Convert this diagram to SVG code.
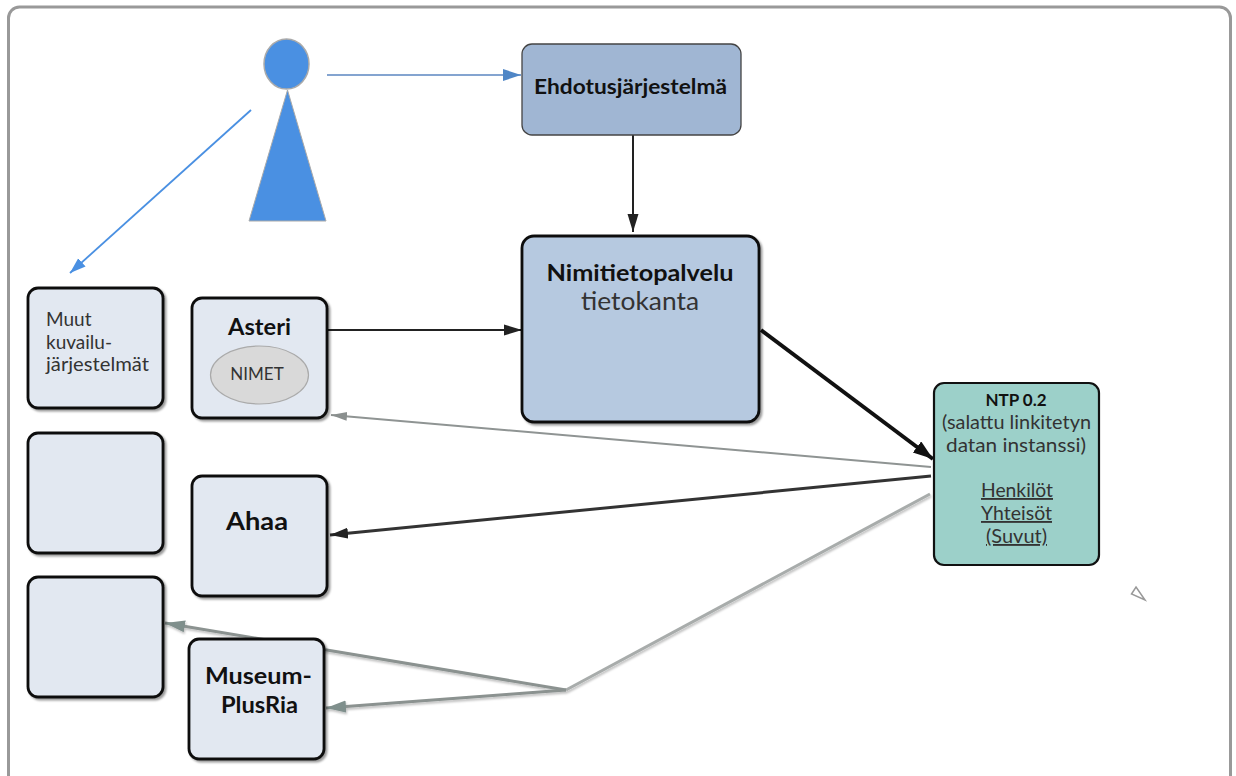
<svg xmlns="http://www.w3.org/2000/svg" width="1236" height="776" viewBox="0 0 1236 776">
<defs>
<filter id="sh" x="-10%" y="-10%" width="125%" height="125%"><feDropShadow dx="2" dy="2" stdDeviation="1.2" flood-color="#000" flood-opacity="0.4"/></filter>
<filter id="ls" x="-5%" y="-5%" width="110%" height="110%"><feDropShadow dx="1" dy="2" stdDeviation="1" flood-color="#000" flood-opacity="0.25"/></filter>
<marker id="ab" markerUnits="userSpaceOnUse" markerWidth="20" markerHeight="14" refX="18" refY="6" orient="auto"><path d="M0 0L18 6L0 12z" fill="#4f86c6"/></marker>
<marker id="al" markerUnits="userSpaceOnUse" markerWidth="20" markerHeight="14" refX="16" refY="6" orient="auto"><path d="M0 0.5L16 6L0 11.5z" fill="#4a90e2"/></marker>
<marker id="ak" markerUnits="userSpaceOnUse" markerWidth="20" markerHeight="14" refX="18" refY="6" orient="auto"><path d="M0 0.5L18 6L0 11.5z" fill="#222"/></marker>
<marker id="akb" markerUnits="userSpaceOnUse" markerWidth="24" markerHeight="16" refX="20" refY="7" orient="auto"><path d="M0 0L20 7L0 14z" fill="#111"/></marker>
<marker id="ag" markerUnits="userSpaceOnUse" markerWidth="20" markerHeight="14" refX="16" refY="5" orient="auto"><path d="M0 0.5L16 5L0 9.5z" fill="#8a8f8e"/></marker>
<marker id="agt" markerUnits="userSpaceOnUse" markerWidth="24" markerHeight="16" refX="20" refY="6" orient="auto"><path d="M0 0L20 6L0 12z" fill="#7f8f8c"/></marker>
</defs>
<style>
text{font-family:"Lato","Open Sans","Liberation Sans",sans-serif;fill:#333;text-anchor:middle}
.box{fill:#e2e8f1;stroke:#111;stroke-width:2.8;filter:url(#sh)}
.b{font-weight:700;fill:#111}
.s{text-anchor:start}
.g{fill:none;stroke:#8b9290;stroke-width:3}
</style>
<rect x="8.500" y="7" width="1222" height="790" rx="11" fill="#fff" stroke="#999" stroke-width="3"/>
<g id="connectors">
<line x1="327" y1="75" x2="521" y2="75" stroke="#5b86c0" stroke-width="1.400" marker-end="url(#ab)"/>
<line x1="251" y1="110" x2="70" y2="273" stroke="#4a90e2" stroke-width="1.800" marker-end="url(#al)"/>
<line x1="633" y1="135" x2="633" y2="232" stroke="#222" stroke-width="2" marker-end="url(#ak)"/>
<line x1="328" y1="330" x2="522" y2="330" stroke="#222" stroke-width="2" marker-end="url(#ak)"/>
<line x1="761" y1="330" x2="933" y2="459" stroke="#111" stroke-width="4" marker-end="url(#akb)"/>
<line x1="931" y1="467" x2="331" y2="415" stroke="#8f9493" stroke-width="2" marker-end="url(#ag)"/>
<line x1="931" y1="476" x2="330" y2="535" stroke="#333" stroke-width="3" marker-end="url(#ak)"/>
<g filter="url(#ls)">
<line x1="930" y1="494" x2="566" y2="690" stroke="#a8acab" stroke-width="3"/>
<line x1="566" y1="690" x2="165" y2="623" class="g" marker-end="url(#agt)"/>
<line x1="566" y1="690" x2="326" y2="708" class="g" marker-end="url(#agt)"/>
</g>
</g>
<g id="person">
<ellipse cx="286.500" cy="64" rx="22.500" ry="25" fill="#4a90e2" stroke="#aaa" stroke-width="1.500"/>
<path d="M287.500 90L326 221H249z" fill="#4a90e2" stroke="#aaa" stroke-width="1"/>
</g>
<g id="ehdotus">
<rect x="522" y="44" width="219" height="91" rx="10" fill="#a0b6d3" stroke="#444" stroke-width="1.300"/>
<text x="630.500" y="94" class="b" font-size="21.500" textLength="193" lengthAdjust="spacingAndGlyphs">Ehdotusjärjestelmä</text>
</g>
<g id="nimitieto">
<rect x="522" y="236" width="237" height="186" rx="12" fill="#b6c9e0" stroke="#111" stroke-width="2.800" filter="url(#sh)"/>
<text x="640" y="281" class="b" font-size="23.500" textLength="187" lengthAdjust="spacingAndGlyphs">Nimitietopalvelu</text>
<text x="640" y="310" font-size="25" textLength="118" lengthAdjust="spacingAndGlyphs">tietokanta</text>
</g>
<g id="muut">
<rect x="28" y="288" width="135" height="120" rx="10" class="box"/>
<text x="46" y="326" font-size="19" class="s">Muut</text>
<text x="46" y="349" font-size="19" class="s">kuvailu-</text>
<text x="46" y="371" font-size="19" class="s" textLength="103" lengthAdjust="spacingAndGlyphs">järjestelmät</text>
</g>
<g id="asteri">
<rect x="192" y="298" width="135" height="120" rx="10" class="box"/>
<text x="259.500" y="335" class="b" font-size="23" textLength="63" lengthAdjust="spacingAndGlyphs">Asteri</text>
<ellipse cx="259.500" cy="375" rx="49" ry="29" fill="#d9d9d9" stroke="#aaa" stroke-width="1.200"/>
<text x="257" y="380" font-size="17">NIMET</text>
</g>
<g id="empty1"><rect x="28" y="433" width="135" height="120" rx="10" class="box"/></g>
<g id="ahaa">
<rect x="192" y="476" width="135" height="120" rx="10" class="box"/>
<text x="257" y="530" class="b" font-size="24" textLength="62" lengthAdjust="spacingAndGlyphs">Ahaa</text>
</g>
<g id="empty2"><rect x="28" y="577" width="135" height="120" rx="10" class="box"/></g>
<g id="museum">
<rect x="189" y="639" width="135" height="120" rx="10" class="box"/>
<text x="258.500" y="684" class="b" font-size="23.500" textLength="107" lengthAdjust="spacingAndGlyphs">Museum-</text>
<text x="259.500" y="713" class="b" font-size="23.500" textLength="77" lengthAdjust="spacingAndGlyphs">PlusRia</text>
</g>
<g id="ntp">
<rect x="934" y="383" width="165" height="182" rx="10" fill="#9cd0c9" stroke="#111" stroke-width="2.200"/>
<text x="1016" y="406" class="b" font-size="17">NTP 0.2</text>
<text x="1016.500" y="429" font-size="19" textLength="149" lengthAdjust="spacingAndGlyphs">(salattu linkitetyn</text>
<text x="1016" y="452" font-size="19" textLength="140" lengthAdjust="spacingAndGlyphs">datan instanssi)</text>
<text x="1017" y="497" font-size="18.500" text-decoration="underline" textLength="72" lengthAdjust="spacingAndGlyphs">Henkilöt</text>
<text x="1016.500" y="520" font-size="18.500" text-decoration="underline" textLength="71" lengthAdjust="spacingAndGlyphs">Yhteisöt</text>
<text x="1016.500" y="543" font-size="18.500" text-decoration="underline" textLength="61" lengthAdjust="spacingAndGlyphs">(Suvut)</text>
</g>
<path d="M1136 587L1145 600L1131.500 594z" fill="#fff" stroke="#999" stroke-width="1.500"/>
</svg>
